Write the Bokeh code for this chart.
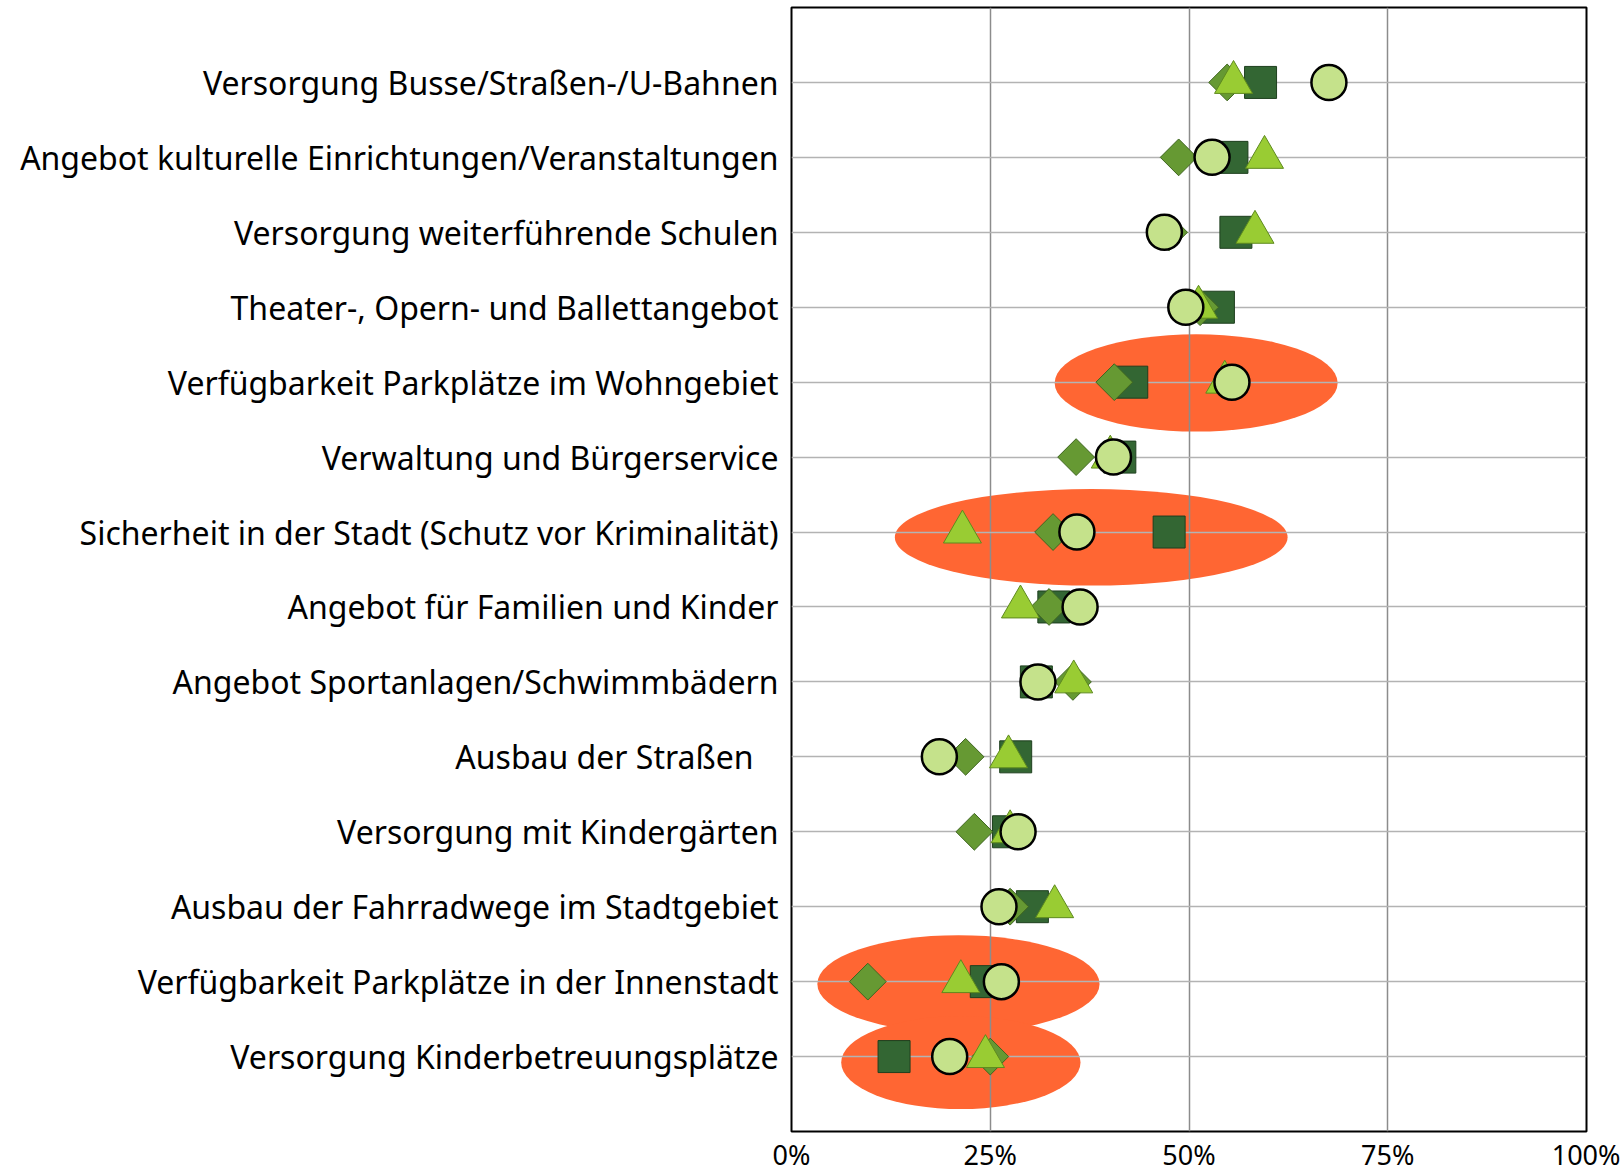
import math
from bokeh.plotting import figure
from bokeh.models import FixedTicker, Range1d, PrintfTickFormatter, ColumnDataSource
from bokeh.embed import file_html
from bokeh.resources import INLINE

# ---- data ----
labels = [
    "Versorgung Busse/Straßen-/U-Bahnen",
    "Angebot kulturelle Einrichtungen/Veranstaltungen",
    "Versorgung weiterführende Schulen",
    "Theater-, Opern- und Ballettangebot",
    "Verfügbarkeit Parkplätze im Wohngebiet",
    "Verwaltung und Bürgerservice",
    "Sicherheit in der Stadt (Schutz vor Kriminalität)",
    "Angebot für Familien und Kinder",
    "Angebot Sportanlagen/Schwimmbädern",
    "Ausbau der Straßen\u00a0\u00a0\u00a0",
    "Versorgung mit Kindergärten",
    "Ausbau der Fahrradwege im Stadtgebiet",
    "Verfügbarkeit Parkplätze in der Innenstadt",
    "Versorgung Kinderbetreuungsplätze",
]
square_vals = [59.0, 55.4, 55.9, 53.7, 42.8, 41.3, 47.5, 33.0, 30.8, 28.2, 27.3, 30.3, 24.5, 12.9]
diamond_vals = [54.8, 48.7, 47.5, 51.4, 40.6, 35.8, 32.9, 32.4, 35.4, 21.9, 23.0, 27.5, 9.6, 25.0]
triangle_vals = [55.6, 59.5, 58.3, 51.2, 54.5, 40.1, 21.5, 28.8, 35.5, 27.3, 27.5, 33.1, 21.3, 24.4]
circle_vals = [67.6, 52.9, 46.9, 49.6, 55.4, 40.5, 35.9, 36.3, 31.0, 18.6, 28.5, 26.1, 26.4, 19.9]
x_ticks = [0, 25, 50, 75, 100]

# highlighted rows (orange ellipses)
hl_rows = [4, 6, 12, 13]
hl_x = [50.9, 37.7, 21.0, 21.3]
hl_w = [35.6, 49.4, 35.5, 30.1]
hl_h = [1.30, 1.29, 1.30, 1.24]
hl_dy = [-0.01, -0.07, -0.03, -0.08]

N = len(labels)
ypos = [N - i for i in range(N)]

FONT = "Noto Sans"

p = figure(width=1620, height=1175, output_backend="svg", toolbar_location=None,
           x_range=Range1d(0, 100), y_range=Range1d(0, N + 1),
           min_border_left=791, min_border_right=34, min_border_top=7, min_border_bottom=43)
p.background_fill_color = "white"
p.border_fill_color = "white"
p.outline_line_color = "black"
p.outline_line_width = 2

# ellipses
es = ColumnDataSource(dict(x=hl_x, y=[ypos[r] + d for r, d in zip(hl_rows, hl_dy)], w=hl_w, h=hl_h))
p.ellipse(x="x", y="y", width="w", height="h", source=es, fill_color="#FF6633",
          line_color=None, level="image")

# grids
p.ygrid.ticker = FixedTicker(ticks=ypos)
p.ygrid.grid_line_color = "#B3B3B3"
p.ygrid.grid_line_width = 1.6
p.xgrid.ticker = FixedTicker(ticks=x_ticks)
p.xgrid.grid_line_color = "#8C8C8C"
p.xgrid.grid_line_width = 1.5

src = ColumnDataSource(dict(y=ypos, sq=square_vals, di=diamond_vals, tr=triangle_vals, ci=circle_vals))
p.scatter(x="sq", y="y", source=src, marker="square", size=32,
          fill_color="#336633", line_color="#1E3F1E", line_width=1)
p.scatter(x="di", y="y", source=src, marker="square", size=26, angle=math.pi / 4,
          fill_color="#669933", line_color="#3F6620", line_width=1)
p.scatter(x="tr", y="y", source=src, marker="triangle", size=38,
          fill_color="#99CC33", line_color="#5E8A1E", line_width=1)
p.scatter(x="ci", y="y", source=src, marker="circle", size=35,
          fill_color="#C5E28B", line_color="black", line_width=2.5)

# y axis
p.yaxis.ticker = FixedTicker(ticks=ypos)
p.yaxis.major_label_overrides = {y: lab for y, lab in zip(ypos, labels)}
p.yaxis.axis_line_color = None
p.yaxis.major_tick_line_color = None
p.yaxis.major_tick_out = 0
p.yaxis.major_tick_in = 0
p.yaxis.minor_tick_line_color = None
p.yaxis.major_label_text_font = FONT
p.yaxis.major_label_text_font_size = "32px"
p.yaxis.major_label_text_color = "black"
p.yaxis.major_label_standoff = 13

# x axis
p.xaxis.ticker = FixedTicker(ticks=x_ticks)
p.xaxis.formatter = PrintfTickFormatter(format="%d%%")
p.xaxis.axis_line_color = None
p.xaxis.major_tick_line_color = None
p.xaxis.major_tick_out = 0
p.xaxis.major_tick_in = 0
p.xaxis.minor_tick_line_color = None
p.xaxis.major_label_text_font = FONT
p.xaxis.major_label_text_font_size = "27px"
p.xaxis.major_label_text_color = "black"
p.xaxis.major_label_standoff = 4

open("out.html", "w").write(file_html(p, INLINE))
